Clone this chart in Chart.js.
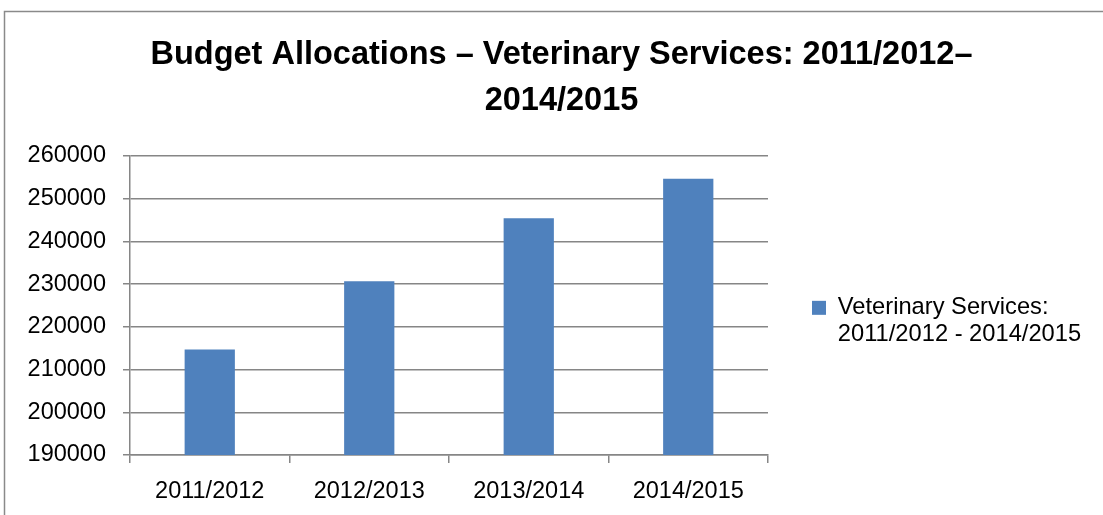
<!DOCTYPE html>
<html>
<head>
<meta charset="utf-8">
<script src="https://cdn.jsdelivr.net/npm/chart.js@4.4.0/dist/chart.umd.min.js"></script>
<style>
  html, body { margin: 0; padding: 0; background: #ffffff; }
  #wrap { width: 1103px; height: 515px; position: relative; }
</style>
</head>
<body>
<div id="wrap"><canvas id="c" width="1103" height="515"></canvas></div>
<script>
const categories = ['2011/2012', '2012/2013', '2013/2014', '2014/2015'];
const budgetValues = [214700, 230700, 245400, 254700];
const seriesLabel = ['Veterinary Services:', '2011/2012 - 2014/2015'];
const titleLines = ['Budget Allocations \u2013 Veterinary Services: 2011/2012\u2013', '2014/2015'];
const yMin = 190000, yMax = 260000, yStep = 10000;

const FONT = '"Liberation Sans", Arial, "DejaVu Sans", sans-serif';
const LEGEND_WIDTH = 301;

// keep the right-hand legend at a fixed width (multi-line label)
const LegendEl = Chart.Legend._element;
const origFit = LegendEl.prototype.fit;
LegendEl.prototype.fit = function () {
  origFit.call(this);
  if (!this.isHorizontal()) { this.width = LEGEND_WIDTH; }
};

const frame = {
  id: 'frame',
  beforeDraw(chart) {
    const ctx = chart.ctx;
    ctx.save();
    ctx.fillStyle = '#ffffff';
    ctx.fillRect(0, 0, chart.width, chart.height);
    ctx.strokeStyle = '#8a8a8a';
    ctx.lineWidth = 1.5;
    ctx.beginPath();
    ctx.moveTo(4.5, chart.height);
    ctx.lineTo(4.5, 11.5);
    ctx.lineTo(chart.width, 11.5);
    ctx.stroke();
    ctx.restore();
  }
};

new Chart(document.getElementById('c'), {
  type: 'bar',
  data: {
    labels: categories,
    datasets: [{
      label: seriesLabel,
      data: budgetValues,
      backgroundColor: '#4F81BD',
      borderWidth: 0,
      categoryPercentage: 1.0,
      barPercentage: 0.315
    }]
  },
  options: {
    responsive: false,
    animation: false,
    devicePixelRatio: 1,
    layout: { padding: { left: 20, right: 0, top: 32, bottom: 0 } },
    plugins: {
      title: {
        display: true,
        text: titleLines,
        color: '#000000',
        font: { family: FONT, size: 32.5, weight: 'bold', lineHeight: 1.42 },
        padding: { top: 0, bottom: 31.7 }
      },
      legend: {
        display: true,
        position: 'right',
        align: 'center',
        fullSize: false,
        title: {
          display: true,
          text: ' ',
          font: { family: FONT, size: 10, lineHeight: 1 },
          padding: { top: 25, bottom: 0 }
        },
        labels: {
          color: '#000000',
          font: { family: FONT, size: 23.7, lineHeight: 1.14 },
          boxWidth: 14,
          boxHeight: 14,
          padding: 10,
          generateLabels(chart) {
            const ds = chart.data.datasets[0];
            return [{
              text: ds.label,
              fillStyle: ds.backgroundColor,
              strokeStyle: ds.backgroundColor,
              fontColor: '#000000',
              lineWidth: 0,
              hidden: false,
              datasetIndex: 0
            }];
          }
        }
      },
      tooltip: { enabled: false }
    },
    scales: {
      x: {
        offset: true,
        grid: {
          display: true,
          offset: true,
          drawOnChartArea: false,
          drawTicks: true,
          tickLength: 8,
          color: '#868686',
          lineWidth: 1.5
        },
        border: { display: true, color: '#868686', width: 1.5 },
        ticks: {
          color: '#000000',
          font: { family: FONT, size: 23.5 },
          padding: 14,
          maxRotation: 0
        },
        afterFit(scale) { scale.height = 60; }
      },
      y: {
        min: yMin,
        max: yMax,
        grid: {
          display: true,
          drawOnChartArea: true,
          drawTicks: true,
          tickLength: 7,
          color: '#868686',
          lineWidth: 1.5
        },
        border: { display: true, color: '#868686', width: 1.5 },
        ticks: {
          stepSize: yStep,
          color: '#000000',
          font: { family: FONT, size: 23.5 },
          padding: 17,
          callback: (v) => String(v)
        },
        afterFit(scale) { scale.width = 110; }
      },
      gap: {
        position: 'right',
        display: true,
        grid: { display: false },
        border: { display: false },
        ticks: { display: false },
        afterFit(scale) { scale.width = 34; }
      }
    }
  },
  plugins: [frame]
});
</script>
</body>
</html>
